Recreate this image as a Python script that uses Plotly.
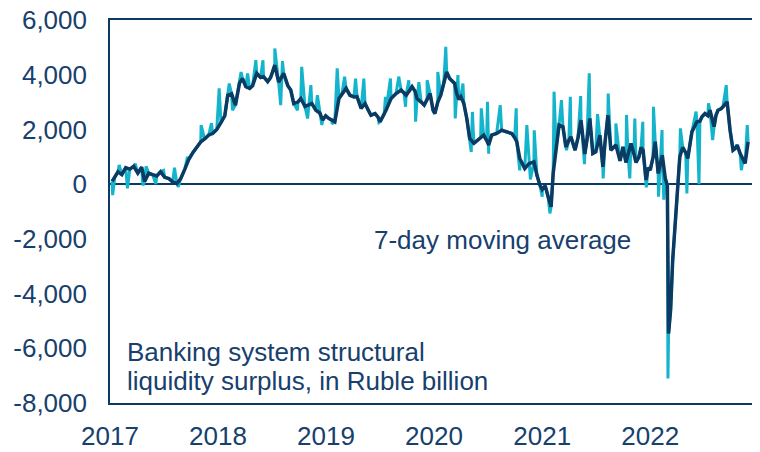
import plotly.graph_objects as go

# 7-day moving average, Ruble billion
ma_dates = [
    "2017-01-08","2017-01-17","2017-01-28","2017-02-10","2017-02-23","2017-03-09","2017-03-22","2017-04-05",
    "2017-04-18","2017-04-28","2017-05-12","2017-05-25","2017-06-08","2017-06-21","2017-07-05","2017-07-19",
    "2017-08-01","2017-08-15","2017-08-28","2017-09-11","2017-09-24","2017-10-08","2017-10-21","2017-11-04",
    "2017-11-17","2017-12-01","2017-12-14","2017-12-28",
    "2018-01-11","2018-01-24","2018-02-03","2018-02-16","2018-03-01","2018-03-15","2018-03-25","2018-04-05",
    "2018-04-18","2018-04-28","2018-05-12","2018-05-25","2018-06-04","2018-06-18","2018-06-28","2018-07-12",
    "2018-07-25","2018-08-11","2018-08-25","2018-09-04","2018-09-14","2018-09-28","2018-10-08","2018-10-22",
    "2018-11-04","2018-11-14","2018-11-28","2018-12-11","2018-12-21","2018-12-31",
    "2019-01-11","2019-01-21","2019-01-31","2019-02-14","2019-02-24","2019-03-10","2019-03-23","2019-04-06",
    "2019-04-16","2019-04-30","2019-05-13","2019-05-23","2019-06-02","2019-06-16","2019-06-26","2019-07-03",
    "2019-07-17","2019-07-23","2019-08-09","2019-08-19","2019-08-26","2019-09-12","2019-09-22","2019-09-29",
    "2019-10-09","2019-10-19","2019-10-29","2019-11-05","2019-11-19","2019-11-29","2019-12-09","2019-12-19",
    "2019-12-29",
    "2020-01-04","2020-01-14","2020-01-24","2020-02-03","2020-02-13","2020-02-23","2020-03-04","2020-03-11",
    "2020-03-18","2020-03-25","2020-04-01","2020-04-11","2020-04-21","2020-05-01","2020-05-15","2020-05-28",
    "2020-06-07","2020-06-17","2020-06-27","2020-07-04","2020-07-14","2020-07-31","2020-08-17","2020-09-03",
    "2020-09-20","2020-09-30","2020-10-07","2020-10-17","2020-10-27","2020-11-03","2020-11-17","2020-12-04",
    "2020-12-14","2020-12-24",
    "2021-01-01","2021-01-11","2021-01-21","2021-01-31","2021-02-07","2021-02-17","2021-02-27","2021-03-12",
    "2021-03-22","2021-04-01","2021-04-08","2021-04-22","2021-05-02","2021-05-12","2021-05-25","2021-06-01",
    "2021-06-11","2021-06-21","2021-07-01","2021-07-15","2021-07-25","2021-08-01","2021-08-11","2021-08-21",
    "2021-08-31","2021-09-07","2021-09-21","2021-10-01","2021-10-11","2021-10-18","2021-10-28","2021-11-07",
    "2021-11-14","2021-11-24","2021-12-01","2021-12-08","2021-12-18","2021-12-25",
    "2022-01-01","2022-01-11","2022-01-18","2022-01-28","2022-02-11","2022-02-21","2022-02-28","2022-03-04",
    "2022-03-11","2022-03-18","2022-04-01","2022-04-11","2022-04-21","2022-05-01","2022-05-08","2022-05-22",
    "2022-06-08","2022-06-18","2022-06-25","2022-07-05","2022-07-15","2022-07-22","2022-08-05","2022-08-11",
    "2022-08-18","2022-08-28","2022-09-04","2022-09-18","2022-09-28","2022-10-08","2022-10-15","2022-10-22",
    "2022-11-01","2022-11-11","2022-11-18","2022-11-28",
]
ma_values = [
    100, 250, 450, 350, 600, 550, 650, 400,
    620, 100, 400, 350, 300, 450, 250, 200,
    80, 20, 200, 550, 900, 1150, 1350, 1550,
    1650, 1800, 1850, 2000,
    2250, 2500, 3250, 3300, 2890, 3700, 3860, 3560,
    3500, 3600, 4050, 3900, 3930, 3750, 3900, 4350,
    3730, 4050, 3600, 3440, 2950, 3000, 3130, 2840,
    2900, 2950, 2700, 2600, 2340, 2500,
    2400, 2350, 2280, 3130, 3300, 3500, 3250, 3190,
    3200, 2770, 2950, 2700, 2520, 2580, 2450, 2280,
    2550, 2700, 3130, 3250, 3310, 3440, 3350, 3250,
    3400, 3560, 3400, 3130, 3000, 2890, 3100, 3310,
    2700,
    2580, 3000, 3250, 3680, 4100, 3860, 3750, 3680,
    3310, 3100, 3200, 2950, 2400, 1670, 1490, 1610,
    1700, 1790, 1600, 1430, 1790, 1850, 1970, 1910,
    1850, 1700, 1550, 940, 700, 570, 750, 815,
    330, -30,
    -200, -60, -460, -830, 390, 1360, 2160, 2100,
    1360, 1600, 1730, 1240, 1700, 2340, 1100, 1600,
    2400, 1120, 1180, 1790, 630, 1500, 2520, 1240,
    1350, 1430, 850, 1360, 790, 1100, 1490, 1100,
    790, 1000, 1340, 1240, 150, 600,
    510, 1000, 1550, 390, 1060, 210, -60, -5460,
    -4600, -2780, -700, 1000, 1340, 1150, 940, 1910,
    2280, 2300, 2460, 2580, 2500, 2700, 2100, 2500,
    2700, 2750, 2830, 3010, 1970, 1240, 1300, 1430,
    1120, 900, 760, 1550,
]

# Daily-series spikes on top of the smoothed path
spike_dates = [
    "2017-01-10","2017-02-01","2017-03-01","2017-03-27","2017-04-22","2017-05-03","2017-06-05","2017-07-01",
    "2017-08-07","2017-08-20","2017-09-20","2017-11-05","2017-12-10","2018-01-05",
    "2018-02-08","2018-02-19","2018-03-20","2018-04-11","2018-05-09","2018-06-02","2018-07-12","2018-08-01",
    "2018-08-07","2018-09-27","2018-10-11","2018-10-31","2018-11-11","2018-12-03","2018-12-18",
    "2019-01-22","2019-02-08","2019-03-05","2019-04-11","2019-05-09","2019-06-29","2019-07-21","2019-08-07",
    "2019-09-04","2019-09-27","2019-10-08","2019-10-31","2019-11-11","2019-12-09",
    "2020-01-14","2020-02-10","2020-03-13","2020-03-22","2020-04-08","2020-05-06","2020-05-10","2020-06-09",
    "2020-06-30","2020-07-04","2020-08-12","2020-10-05","2020-10-17","2020-11-10","2020-11-22","2020-12-05",
    "2021-01-01",
    "2021-01-27","2021-02-10","2021-03-07","2021-03-24","2021-04-06","2021-05-11","2021-05-24","2021-06-09",
    "2021-07-07","2021-07-26","2021-08-12","2021-09-07","2021-10-13","2021-10-24","2021-11-10","2021-12-07",
    "2021-12-19",
    "2022-01-12","2022-01-29","2022-02-10","2022-02-16","2022-03-02","2022-03-25","2022-04-13","2022-05-05",
    "2022-06-05","2022-06-15","2022-07-17","2022-07-31","2022-09-15","2022-11-05","2022-11-25",
]
spike_values = [
    -400, 700, -150, 750, -50, 650, 0, 500,
    600, -100, 1000, 2160, 2230, 3500,
    3680, 2700, 4100, 4050, 4530, 4530, 4960, 2890,
    4500, 2700, 4290, 2400, 3620, 3250, 2160,
    2200, 4230, 3930, 3860, 3860, 2250, 3190, 3860,
    3930, 2830, 3800, 2280, 3730, 3800,
    4100, 5020, 2400, 3990, 3680, 1180, 2640, 2770,
    3010, 1110, 2890, 2770, 500, 2160, 170, 1970,
    -460,
    -1070, 3380, 3070, 1240, 3190, 3220, 730, 4050,
    2560, 210, 3310, 2220, 2530, 210, 2400, 2280,
    -120,
    2830, -460, 1980, -570, -7100, -1700, 2040, -340,
    2650, 0, 2950, 1610, 3620, 510, 2160,
]

y_tickvals = [6000, 4000, 2000, 0, -2000, -4000, -6000, -8000]
y_ticktext = ["6,000", "4,000", "2,000", "0", "-2,000", "-4,000", "-6,000", "-8,000"]
x_tickvals = ["2017-01-01", "2018-01-01", "2019-01-01", "2020-01-01", "2021-01-01", "2022-01-01"]
x_ticktext = ["2017", "2018", "2019", "2020", "2021", "2022"]

NAVY = "#0b3a63"
CYAN = "#14b4cc"
TEXT = "#17406d"
FONT = "Liberation Sans, Arial, sans-serif"
FS = 26

daily = sorted(zip(ma_dates + spike_dates, ma_values + spike_values))
daily_dates = [d for d, _ in daily]
daily_values = [v for _, v in daily]

fig = go.Figure()
fig.add_trace(go.Scatter(x=daily_dates, y=daily_values, mode="lines",
                         line=dict(color=CYAN, width=3), hoverinfo="skip"))
fig.add_trace(go.Scatter(x=ma_dates, y=ma_values, mode="lines",
                         line=dict(color=NAVY, width=3.5)))

fig.update_layout(
    width=760, height=452,
    margin=dict(l=102, r=11, t=12, b=57),
    paper_bgcolor="white", plot_bgcolor="white",
    showlegend=False,
    font=dict(family=FONT, size=FS, color=TEXT),
    xaxis=dict(
        type="date", range=["2017-01-01", "2022-12-28"],
        tickvals=x_tickvals, ticktext=x_ticktext, automargin=False,
        showgrid=False, zeroline=False,
        showline=True, mirror=True, linecolor=NAVY, linewidth=1.6,
        ticks="", ticklabelstandoff=9, ticklabeloverflow="allow",
        tickfont=dict(size=FS, color=TEXT, family=FONT),
    ),
    yaxis=dict(
        range=[-8000, 6000], automargin=False,
        tickvals=y_tickvals, ticktext=y_ticktext,
        showgrid=False, zeroline=True, zerolinecolor=NAVY, zerolinewidth=1.6,
        showline=True, mirror=True, linecolor=NAVY, linewidth=1.6,
        ticks="", ticklabelstandoff=16, ticklabeloverflow="allow",
        tickfont=dict(size=FS, color=TEXT, family=FONT),
    ),
    annotations=[
        dict(xref="paper", yref="paper", x=0.405, y=0.4256, xanchor="left", yanchor="middle",
             text="7-day moving average", showarrow=False,
             font=dict(size=FS, color=TEXT, family=FONT)),
        dict(xref="paper", yref="paper", x=0.023, y=0.133, xanchor="left", yanchor="middle",
             text="Banking system structural", showarrow=False,
             font=dict(size=FS, color=TEXT, family=FONT)),
        dict(xref="paper", yref="paper", x=0.023, y=0.0574, xanchor="left", yanchor="middle",
             text="liquidity surplus, in Ruble billion", showarrow=False,
             font=dict(size=FS, color=TEXT, family=FONT)),
    ],
)

fig.write_html("out.html")
